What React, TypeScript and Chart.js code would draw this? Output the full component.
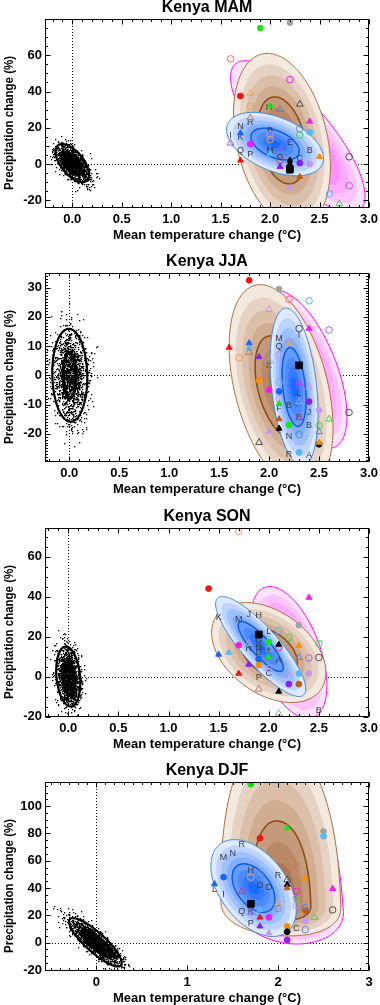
import React, { useEffect, useRef } from "react";
import { Chart, registerables } from "chart.js";
Chart.register(...registerables);

const FONT = "'Liberation Sans', Arial, Helvetica, sans-serif";

// ---------- DATA ----------
// marker records: [temperature change, precipitation change, colour key, marker code]
// marker codes: c filled circle, o open circle, t filled triangle, v open triangle, s filled square
const MAM_POINTS: [number, number, string, string][] = [
  [1.9, 75, "green", "c"], [2.2, 78, "gray", "c"], [1.6, 58, "salmon", "o"], [2.2, 46.5, "magenta", "o"],
  [1.7, 37.5, "red", "c"], [1.8, 39, "lorange", "v"], [1.8, 32, "lorange", "o"], [2.0, 32, "green", "t"],
  [2.1, 30, "steel", "v"], [2.3, 33, "dgray", "v"], [1.8, 25.5, "rosy", "v"], [1.7, 17, "blue", "t"],
  [2.4, 23.5, "magenta", "t"], [2.3, 19.5, "steel", "o"], [2.4, 17.5, "lblue", "c"], [2.3, 16, "lgreen", "o"],
  [1.6, 11.5, "purple2", "v"], [2.0, 16, "lpurple", "o"], [2.0, 13.5, "lorange", "o"], [1.8, 11, "magenta", "c"],
  [2.1, 8, "purple2", "v"], [2.0, 5.5, "lblue", "t"], [2.5, 4, "orange", "t"], [1.7, 2, "red", "t"],
  [2.1, 2, "crimson", "o"], [2.1, -1.5, "purple", "t"], [2.3, 0.5, "purple", "c"], [2.4, 0, "lpurple", "c"],
  [2.2, 2, "black", "t"], [2.2, 0, "black", "t"], [2.2, -2, "black", "t"], [2.2, -4, "black", "t"],
  [2.2, -3, "black", "s"], [2.3, -7, "brown", "t"], [2.2, -13, "lpurple", "t"], [2.8, 4, "dgray", "o"],
  [2.8, -12, "purple2", "o"], [2.6, -16.5, "lblue", "o"], [2.7, -22, "lgreen", "v"],
];
const MAM_LETTERS: [number, number, string][] = [
  [1.99, 31, "H"], [1.8, 23, "R"], [1.7, 20.5, "N"], [1.7, 14.5, "K"], [1.6, 15.5, "I"], [2.0, 18.5, "B"],
  [2.2, 12, "E"], [2.0, 7.5, "M"], [1.7, 7.5, "Q"], [1.8, 5.5, "P"], [2.4, 7.5, "B"], [2.3, 3, "C"], [2.1, 3.5, "O"],
];
const JJA_POINTS: [number, number, string, string][] = [
  [1.8, 32.5, "red", "c"], [2.1, 29.5, "gray", "c"], [2.2, 26, "salmon", "o"], [2.4, 25.5, "lblue", "o"],
  [2.0, 22.5, "lpurple", "v"], [2.3, 16, "dgray", "o"], [2.4, 16, "magenta", "t"], [2.6, 15.5, "purple2", "o"],
  [1.6, 9.5, "red", "t"], [1.8, 11, "blue", "t"], [1.8, 9.2, "lblue", "t"], [1.8, 7.8, "rosy", "v"],
  [1.7, 6, "lorange", "o"], [1.9, 6.3, "purple", "t"], [2.1, 7, "lpurple", "o"], [2.2, 11, "lorange", "v"],
  [2.0, 4.5, "gray", "o"], [2.3, 3.4, "black", "s"], [1.9, -1.7, "orange", "c"], [2.0, -5, "magenta", "c"],
  [2.1, -2.5, "lsteel", "o"], [2.1, -5.5, "blue", "c"], [2.3, -2.7, "magenta", "v"], [2.4, -4, "lpurple", "v"],
  [2.1, -8, "lpurple", "o"], [2.4, -9, "purple", "c"], [2.1, -9.8, "green", "t"], [2.3, -9, "lsteel", "v"],
  [2.5, -12, "lpurple", "c"], [2.3, -14.5, "crimson", "v"], [2.6, -15, "lgreen", "v"], [2.1, -15, "brown", "t"],
  [2.2, -17, "green", "c"], [2.5, -17.2, "lgreen", "o"], [2.1, -18.2, "black", "t"], [2.0, -19.3, "lpurple", "t"],
  [2.3, -20.3, "steel", "o"], [2.5, -19.3, "steel", "v"], [1.9, -23, "dgray", "v"], [2.5, -23.6, "black", "c"],
  [2.5, -23, "orange", "t"], [2.3, -26.4, "lblue", "c"], [2.8, -12.7, "dgray", "o"],
];
const JJA_LETTERS: [number, number, string][] = [
  [2.1, 12.5, "M"], [2.1, 9.7, "Q"], [2.3, 13.5, "I"], [2.0, 3.5, "K"], [2.3, -6.3, "L"], [2.1, -11.5, "F"],
  [2.2, -10.5, "B"], [2.4, -12.7, "J"], [2.3, -14.5, "E"], [2.4, -17.3, "B"], [2.2, -20.8, "N"],
  [2.2, -27, "R"], [2.4, -27.6, "A"],
];
const SON_POINTS: [number, number, string, string][] = [
  [1.7, 72.5, "lorange", "o"], [1.4, 44, "red", "c"], [2.4, 39.5, "magenta", "t"], [2.3, 25.7, "gray", "c"],
  [2.1, 23, "lblue", "o"], [2.2, 19.5, "lgreen", "o"], [1.9, 21, "black", "s"], [2.0, 17.3, "green", "c"],
  [1.7, 15.7, "magenta", "c"], [1.8, 16.5, "lpurple", "v"], [2.1, 14.5, "magenta", "o"], [2.1, 16, "black", "t"],
  [2.3, 15.5, "orange", "t"], [2.5, 16.5, "lgreen", "o"], [1.5, 11, "blue", "t"], [1.6, 12, "lblue", "t"],
  [2.0, 14, "gray", "o"], [2.0, 9.8, "green", "t"], [2.3, 9.5, "steel", "v"], [2.4, 9.3, "purple2", "o"],
  [2.5, 9.5, "dgray", "o"], [1.9, 8.7, "blue", "c"], [1.8, 6, "purple", "t"], [1.9, 5.7, "orange", "c"],
  [2.0, 4, "lpurple", "o"], [1.7, 1.5, "red", "t"], [2.3, 1.5, "lblue", "c"], [2.2, 0.5, "lpurple", "v"],
  [2.4, 1.5, "lpurple", "c"], [2.2, -3.8, "purple", "c"], [2.3, -3.8, "brown", "c"], [1.9, -6.3, "rosy", "v"],
  [2.1, -7.5, "black", "t"], [2.1, -18.5, "gray", "v"],
];
const SON_LETTERS: [number, number, string][] = [
  [1.5, 29.5, "K"], [1.7, 28.7, "M"], [1.8, 31.2, "J"], [1.9, 30.7, "H"], [2.0, 22.3, "L"], [1.9, 18, "G"],
  [1.8, 13.8, "R"], [1.9, 14.5, "N"], [1.9, 12, "D"], [2.0, 12.5, "I"], [2.1, 8.2, "A"], [2.0, 1.5, "C"],
  [1.9, -0.5, "P"], [2.5, -17, "B"],
];
const DJF_POINTS: [number, number, string, string][] = [
  [1.7, 116, "green", "c"], [2.1, 84, "green", "t"], [2.5, 81.5, "gray", "c"], [2.5, 78, "lblue", "c"],
  [1.8, 76.5, "red", "c"], [2.2, 58, "rosy", "v"], [1.7, 48, "lorange", "o"], [1.8, 50.5, "steel", "o"],
  [2.1, 46, "dgray", "v"], [1.4, 48, "blue", "c"], [2.3, 47, "orange", "t"], [2.1, 42.4, "black", "t"],
  [2.1, 40, "brown", "t"], [1.3, 43, "blue", "t"], [1.6, 37.5, "crimson", "v"], [2.2, 37.5, "magenta", "o"],
  [2.2, 32.5, "lgreen", "o"], [2.0, 29, "lorange", "v"], [2.0, 25, "rosy", "o"], [1.7, 28.5, "black", "s"],
  [2.2, 27.5, "lpurple", "o"], [1.8, 24, "lblue", "t"], [2.3, 23.5, "brown", "c"], [2.3, 26, "steel", "v"],
  [2.6, 24, "dgray", "o"], [2.6, 39.5, "magenta", "t"], [1.7, 22, "purple2", "v"], [1.8, 18.5, "red", "t"],
  [1.9, 18.5, "magenta", "c"], [2.3, 16, "lpurple", "c"], [2.4, 18.5, "lgreen", "v"], [2.1, 12, "orange", "c"],
  [1.8, 12, "purple", "t"], [2.3, 9.5, "steel", "o"], [2.1, 8, "black", "c"], [1.9, 7, "lpurple", "t"],
  [2.1, 2, "purple", "c"],
];
const DJF_LETTERS: [number, number, string][] = [
  [1.6, 72, "R"], [1.5, 65, "N"], [1.4, 62.5, "M"], [1.7, 53, "H"], [2.0, 49, "R"], [1.3, 39, "L"],
  [1.8, 41.7, "O"], [1.9, 40.5, "D"], [1.4, 35.5, "I"], [1.6, 22.5, "Q"], [1.7, 22.5, "K"], [1.7, 14, "P"],
  [2.2, 10.5, "C"],
];

// distributions: [centre T, centre P, T spread, P spread up, P spread down, correlation, shape exponent]
const MAM_MAGENTA = [2.28, 15, 0.68, 42, 42, -0.78, 2];
const MAM_BROWN = [2.12, 13, 0.49, 48, 48, -0.3, 2];
const MAM_BLUE = [2.05, 11, 0.49, 17.5, 17.5, -0.45, 2];
const JJA_MAGENTA = [2.34, 2, 0.44, 27, 27, -0.59, 2];
const JJA_BROWN = [2.12, -4, 0.52, 35, 35, -0.4, 2];
const JJA_BLUE = [2.25, -4, 0.24, 27, 27, -0.33, 2];
const SON_MAGENTA = [2.2, 12, 0.38, 33, 33, -0.5, 2];
const SON_BROWN = [2.0, 12, 0.57, 25, 25, -0.4, 2];
const SON_BLUE = [1.92, 15, 0.45, 25, 25, -0.85, 2];
const DJF_MAGENTA = [2.12, 26, 0.6, 110, 27, -0.15, 2];
const DJF_BROWN = [2.03, 28, 0.66, 122, 23, -0.1, 2.2];
const DJF_BLUE = [1.73, 40, 0.47, 35.5, 35.5, -0.45, 2];

// natural variability: [centre T, centre P, T spread, P spread, correlation]
const MAM_NOISE_OUTER = [0, 0.5, 0.17, 10.5, -0.6];
const MAM_NOISE_INNER = [0, 0.5, 0.09, 5.5, -0.6];
const JJA_NOISE_OUTER = [0.005, 0, 0.175, 15.9, -0.05];
const JJA_NOISE_INNER = [0.003, 0, 0.063, 7.8, -0.05];
const SON_NOISE_OUTER = [0, 0, 0.12, 15, -0.2];
const SON_NOISE_INNER = [0.005, -1, 0.055, 8.5, -0.2];
const DJF_NOISE_OUTER = [-0.01, 0.3, 0.29, 17.7, -0.85];
const DJF_NOISE_INNER = [0.01, -0.5, 0.17, 10, -0.85];

// axes
const X_TICKS_HALF = [0, 0.5, 1.0, 1.5, 2.0, 2.5, 3.0];
const X_TICKS_UNIT = [0, 1, 2, 3];
const MAM_Y_TICKS = [-20, 0, 20, 40, 60];
const JJA_Y_TICKS = [-20, -10, 0, 10, 20, 30];
const SON_Y_TICKS = [-20, 0, 20, 40, 60];
const DJF_Y_TICKS = [-20, 0, 20, 40, 60, 80, 100];

// ---------- STYLES ----------
const COLORS: Record<string, string> = {
  red: "#f21313", green: "#14e614", lgreen: "#46d246", gray: "#a3a3a3", dgray: "#4d4d4d",
  salmon: "#ff6464", magenta: "#ff14ff", orange: "#ff8c00", lorange: "#f2a04e", blue: "#1464ff",
  lblue: "#50b9ff", steel: "#4f86d6", lsteel: "#8fb0e0", purple: "#8c1ef0", lpurple: "#c396f0",
  purple2: "#a064e6", brown: "#c25a14", rosy: "#b48064", crimson: "#e0304e", black: "#000000",
};
const SHAPES: Record<string, { style: string; r: number; fill: boolean }> = {
  c: { style: "circle", r: 2.9, fill: true },
  o: { style: "circle", r: 3.3, fill: false },
  t: { style: "triangle", r: 3.4, fill: true },
  v: { style: "triangle", r: 3.9, fill: false },
  s: { style: "rect", r: 4.8, fill: true },
};
const PALETTES: Record<string, { light: number[]; dark: number[]; edge: string; inner: string | null }> = {
  magenta: { light: [255, 226, 255], dark: [255, 50, 255], edge: "#ff00ff", inner: null },
  brown: { light: [244, 233, 222], dark: [166, 102, 58], edge: "#a8703e", inner: "#8a4a14" },
  blue: { light: [222, 234, 255], dark: [25, 105, 255], edge: "#3f86e0", inner: "#0a5ce0" },
};

type Panel = {
  key: string; title: string; xMin: number; xMax: number; yMin: number; yMax: number;
  xTicks: number[]; yTicks: number[]; xMinor: number; yMinor: number; xDec: number;
  points: [number, number, string, string][]; letters: [number, number, string][];
  dists: [number[], string][]; noiseOuter: number[]; noiseInner: number[]; seed: number; top: number;
};

const PANELS: Panel[] = [
  { key: "mam", title: "Kenya MAM", xMin: -0.276, xMax: 3.0, yMin: -24, yMax: 80, xTicks: X_TICKS_HALF, yTicks: MAM_Y_TICKS,
    xMinor: 0.1, yMinor: 5, xDec: 1, points: MAM_POINTS, letters: MAM_LETTERS,
    dists: [[MAM_MAGENTA, "magenta"], [MAM_BROWN, "brown"], [MAM_BLUE, "blue"]],
    noiseOuter: MAM_NOISE_OUTER, noiseInner: MAM_NOISE_INNER, seed: 11, top: 0 },
  { key: "jja", title: "Kenya JJA", xMin: -0.243, xMax: 3.0, yMin: -29.5, yMax: 35, xTicks: X_TICKS_HALF, yTicks: JJA_Y_TICKS,
    xMinor: 0.1, yMinor: 1, xDec: 1, points: JJA_POINTS, letters: JJA_LETTERS,
    dists: [[JJA_MAGENTA, "magenta"], [JJA_BROWN, "brown"], [JJA_BLUE, "blue"]],
    noiseOuter: JJA_NOISE_OUTER, noiseInner: JJA_NOISE_INNER, seed: 23, top: 254 },
  { key: "son", title: "Kenya SON", xMin: -0.232, xMax: 3.0, yMin: -20, yMax: 74.3, xTicks: X_TICKS_HALF, yTicks: SON_Y_TICKS,
    xMinor: 0.1, yMinor: 5, xDec: 1, points: SON_POINTS, letters: SON_LETTERS,
    dists: [[SON_MAGENTA, "magenta"], [SON_BROWN, "brown"], [SON_BLUE, "blue"]],
    noiseOuter: SON_NOISE_OUTER, noiseInner: SON_NOISE_INNER, seed: 37, top: 509 },
  { key: "djf", title: "Kenya DJF", xMin: -0.564, xMax: 3.0, yMin: -20.4, yMax: 117.7, xTicks: X_TICKS_UNIT, yTicks: DJF_Y_TICKS,
    xMinor: 0.1, yMinor: 5, xDec: 0, points: DJF_POINTS, letters: DJF_LETTERS,
    dists: [[DJF_MAGENTA, "magenta"], [DJF_BROWN, "brown"], [DJF_BLUE, "blue"]],
    noiseOuter: DJF_NOISE_OUTER, noiseInner: DJF_NOISE_INNER, seed: 53, top: 763 },
];

// ---------- DRAWING HELPERS ----------
function rng(seed: number) {
  let a = seed >>> 0;
  return () => {
    a = (a + 0x6d2b79f5) >>> 0;
    let t = a;
    t = Math.imul(t ^ (t >>> 15), t | 1);
    t ^= t + Math.imul(t ^ (t >>> 7), t | 61);
    return ((t ^ (t >>> 14)) >>> 0) / 4294967296;
  };
}

function shapePath(ctx: CanvasRenderingContext2D, d: number[], s: number, X: (v: number) => number, Y: (v: number) => number) {
  const [cx, cy, a, bUp, bDn, rho, n] = d;
  const q = Math.sqrt(1 - rho * rho);
  ctx.beginPath();
  const N = 180;
  for (let i = 0; i <= N; i++) {
    const t = (i / N) * Math.PI * 2;
    const c = Math.cos(t), sn = Math.sin(t);
    const u = Math.sign(c) * Math.pow(Math.abs(c), 2 / n);
    const v = Math.sign(sn) * Math.pow(Math.abs(sn), 2 / n);
    const off = rho * u + q * v;
    const b = off >= 0 ? bUp : bDn;
    const px = X(cx + s * a * u), py = Y(cy + s * b * off);
    if (i === 0) ctx.moveTo(px, py); else ctx.lineTo(px, py);
  }
  ctx.closePath();
}

function makeDecor(P: Panel) {
  return {
    id: "decor_" + P.key,
    beforeDatasetsDraw(chart: any) {
      const { ctx, chartArea: ca } = chart;
      const xs = chart.scales.x, ys = chart.scales.y;
      const X = (v: number) => xs.getPixelForValue(v);
      const Y = (v: number) => ys.getPixelForValue(v);
      ctx.save();
      ctx.beginPath();
      ctx.rect(ca.left, ca.top, ca.right - ca.left, ca.bottom - ca.top);
      ctx.clip();
      // dotted zero lines
      ctx.fillStyle = "#000";
      const x0 = Math.round(X(0));
      for (let y = ca.top + 1; y < ca.bottom; y += 3) ctx.fillRect(x0, y, 1, 1);
      const y0 = Math.round(Y(0));
      for (let x = ca.left + 1; x < ca.right; x += 3) ctx.fillRect(x, y0, 1, 1);
      // natural variability stipple (texture)
      const [ncx, ncy, na, nb, nr] = P.noiseOuter;
      const r = rng(P.seed);
      const sx = na / 2.15, sy = nb / 2.15, nq = Math.sqrt(1 - nr * nr);
      ctx.fillStyle = "#000";
      for (let i = 0; i < 1500; i++) {
        const u1 = Math.max(r(), 1e-9), u2 = r();
        const rad = Math.sqrt(-2 * Math.log(u1));
        const z1 = rad * Math.cos(2 * Math.PI * u2), z2 = rad * Math.sin(2 * Math.PI * u2);
        const px = X(ncx + sx * z1), py = Y(ncy + sy * (nr * z1 + nq * z2));
        ctx.fillRect(Math.round(px), Math.round(py), 1.3, 1.3);
      }
      const ell = (e: number[], lw: number) => {
        shapePath(ctx, [e[0], e[1], e[2], e[3], e[3], e[4], 2], 1, X, Y);
        ctx.lineWidth = lw; ctx.strokeStyle = "#000"; ctx.stroke();
      };
      ell(P.noiseOuter, 2.2);
      ell(P.noiseInner, 3.2);
      // model distributions
      for (const [d, key] of P.dists) {
        const pal = PALETTES[key];
        const L = 8;
        for (let k = 0; k < L; k++) {
          const s = 1 - k / L;
          const t = Math.pow(k / (L - 1), 0.9);
          const col = pal.light.map((c, j) => Math.round(c + (pal.dark[j] - c) * t));
          shapePath(ctx, d, s, X, Y);
          ctx.fillStyle = `rgb(${col[0]},${col[1]},${col[2]})`;
          ctx.fill();
        }
        shapePath(ctx, d, 1, X, Y);
        ctx.lineWidth = 1; ctx.strokeStyle = pal.edge; ctx.stroke();
        if (pal.inner) {
          shapePath(ctx, d, 0.5, X, Y);
          ctx.lineWidth = 1.5; ctx.strokeStyle = pal.inner; ctx.stroke();
        }
      }
      // model letters
      ctx.font = `9px ${FONT}`;
      ctx.fillStyle = "#3c3c3c";
      ctx.textAlign = "center";
      ctx.textBaseline = "middle";
      for (const [lx, ly, txt] of P.letters) ctx.fillText(txt, X(lx), Y(ly));
      ctx.restore();
    },
    afterDraw(chart: any) {
      const { ctx, chartArea: ca } = chart;
      const xs = chart.scales.x, ys = chart.scales.y;
      ctx.save();
      ctx.strokeStyle = "#000";
      ctx.lineWidth = 1;
      const L = Math.round(ca.left) + 0.5, R = Math.round(ca.right) - 0.5;
      const T = Math.round(ca.top) + 0.5, B = Math.round(ca.bottom) - 0.5;
      ctx.strokeRect(L, T, R - L, B - T);
      ctx.beginPath();
      const eps = 1e-6;
      const first = Math.ceil(P.xMin / P.xMinor - eps);
      for (let i = first; i * P.xMinor <= P.xMax + eps; i++) {
        const v = i * P.xMinor;
        const major = P.xTicks.some((t) => Math.abs(t - v) < 1e-6);
        const len = major ? 5 : 2.5;
        const px = Math.round(xs.getPixelForValue(v)) + 0.5;
        ctx.moveTo(px, B); ctx.lineTo(px, B - len);
        ctx.moveTo(px, T); ctx.lineTo(px, T + len);
      }
      const firstY = Math.ceil(P.yMin / P.yMinor - eps);
      for (let i = firstY; i * P.yMinor <= P.yMax + eps; i++) {
        const v = i * P.yMinor;
        const major = P.yTicks.some((t) => Math.abs(t - v) < 1e-6);
        const len = major ? 5 : 2.5;
        const py = Math.round(ys.getPixelForValue(v)) + 0.5;
        ctx.moveTo(L, py); ctx.lineTo(L + len, py);
        ctx.moveTo(R, py); ctx.lineTo(R - len, py);
      }
      ctx.stroke();
      // y axis title
      ctx.translate(9, 123);
      ctx.rotate(-Math.PI / 2);
      ctx.font = `bold 13.5px ${FONT}`;
      ctx.fillStyle = "#000";
      ctx.textAlign = "center";
      ctx.textBaseline = "middle";
      ctx.fillText("Precipitation change (%)", 0, 0, 134);
      ctx.restore();
    },
  };
}

function buildConfig(P: Panel): any {
  const pts = P.points;
  return {
    type: "scatter",
    data: {
      datasets: [
        {
          data: pts.map((p) => ({ x: p[0], y: p[1] })),
          pointStyle: pts.map((p) => SHAPES[p[3]].style),
          pointRadius: pts.map((p) => SHAPES[p[3]].r),
          pointHoverRadius: pts.map((p) => SHAPES[p[3]].r),
          pointBackgroundColor: pts.map((p) => (SHAPES[p[3]].fill ? COLORS[p[2]] : "rgba(0,0,0,0)")),
          pointBorderColor: pts.map((p) => COLORS[p[2]]),
          pointBorderWidth: 1,
          showLine: false,
        },
      ],
    },
    options: {
      animation: false,
      responsive: false,
      maintainAspectRatio: false,
      layout: { padding: { left: 0, right: 11, top: 0, bottom: 0 } },
      plugins: {
        legend: { display: false },
        tooltip: { enabled: false },
        title: {
          display: true, text: P.title, fullSize: false, color: "#000",
          font: { family: FONT, size: 16, weight: "bold", lineHeight: 1 },
          padding: { top: 0, bottom: 3 },
        },
      },
      scales: {
        x: {
          type: "linear", min: P.xMin, max: P.xMax,
          grid: { display: false, drawTicks: false }, border: { display: false },
          afterBuildTicks: (s: any) => { s.ticks = P.xTicks.map((v) => ({ value: v })); },
          afterFit: (s: any) => { s.height = 47.5; s.paddingLeft = 0; s.paddingRight = 0; },
          ticks: {
            color: "#000", padding: 4, autoSkip: false, maxRotation: 0, includeBounds: false,
            font: { family: FONT, size: 13, weight: "bold" },
            callback: (v: number) => Number(v).toFixed(P.xDec),
          },
          title: {
            display: true, text: "Mean temperature change (°C)", color: "#000",
            font: { family: FONT, size: 13, weight: "bold" }, padding: { top: 0, bottom: 12 },
          },
        },
        y: {
          type: "linear", min: P.yMin, max: P.yMax,
          grid: { display: false, drawTicks: false }, border: { display: false },
          afterBuildTicks: (s: any) => { s.ticks = P.yTicks.map((v) => ({ value: v })); },
          afterFit: (s: any) => { s.width = 45; s.paddingTop = 0; s.paddingBottom = 0; },
          ticks: {
            color: "#000", padding: 3, autoSkip: false, includeBounds: false,
            font: { family: FONT, size: 13, weight: "bold" },
            callback: (v: number) => String(v),
          },
          title: { display: false },
        },
      },
    },
    plugins: [makeDecor(P)],
  };
}

function PanelChart({ p }: { p: Panel }) {
  const ref = useRef<HTMLCanvasElement | null>(null);
  useEffect(() => {
    if (!ref.current) return;
    const chart = new Chart(ref.current, buildConfig(p));
    return () => chart.destroy();
  }, [p]);
  return (
    <canvas
      ref={ref}
      width={380}
      height={255}
      style={{ position: "absolute", left: 0, top: p.top, width: 380, height: 255 }}
    />
  );
}

export default function App() {
  return (
    <div style={{ position: "fixed", left: 0, top: 0, width: 380, height: 1005, overflow: "hidden", background: "#fff" }}>
      {PANELS.map((p) => (
        <PanelChart key={p.key} p={p} />
      ))}
    </div>
  );
}
